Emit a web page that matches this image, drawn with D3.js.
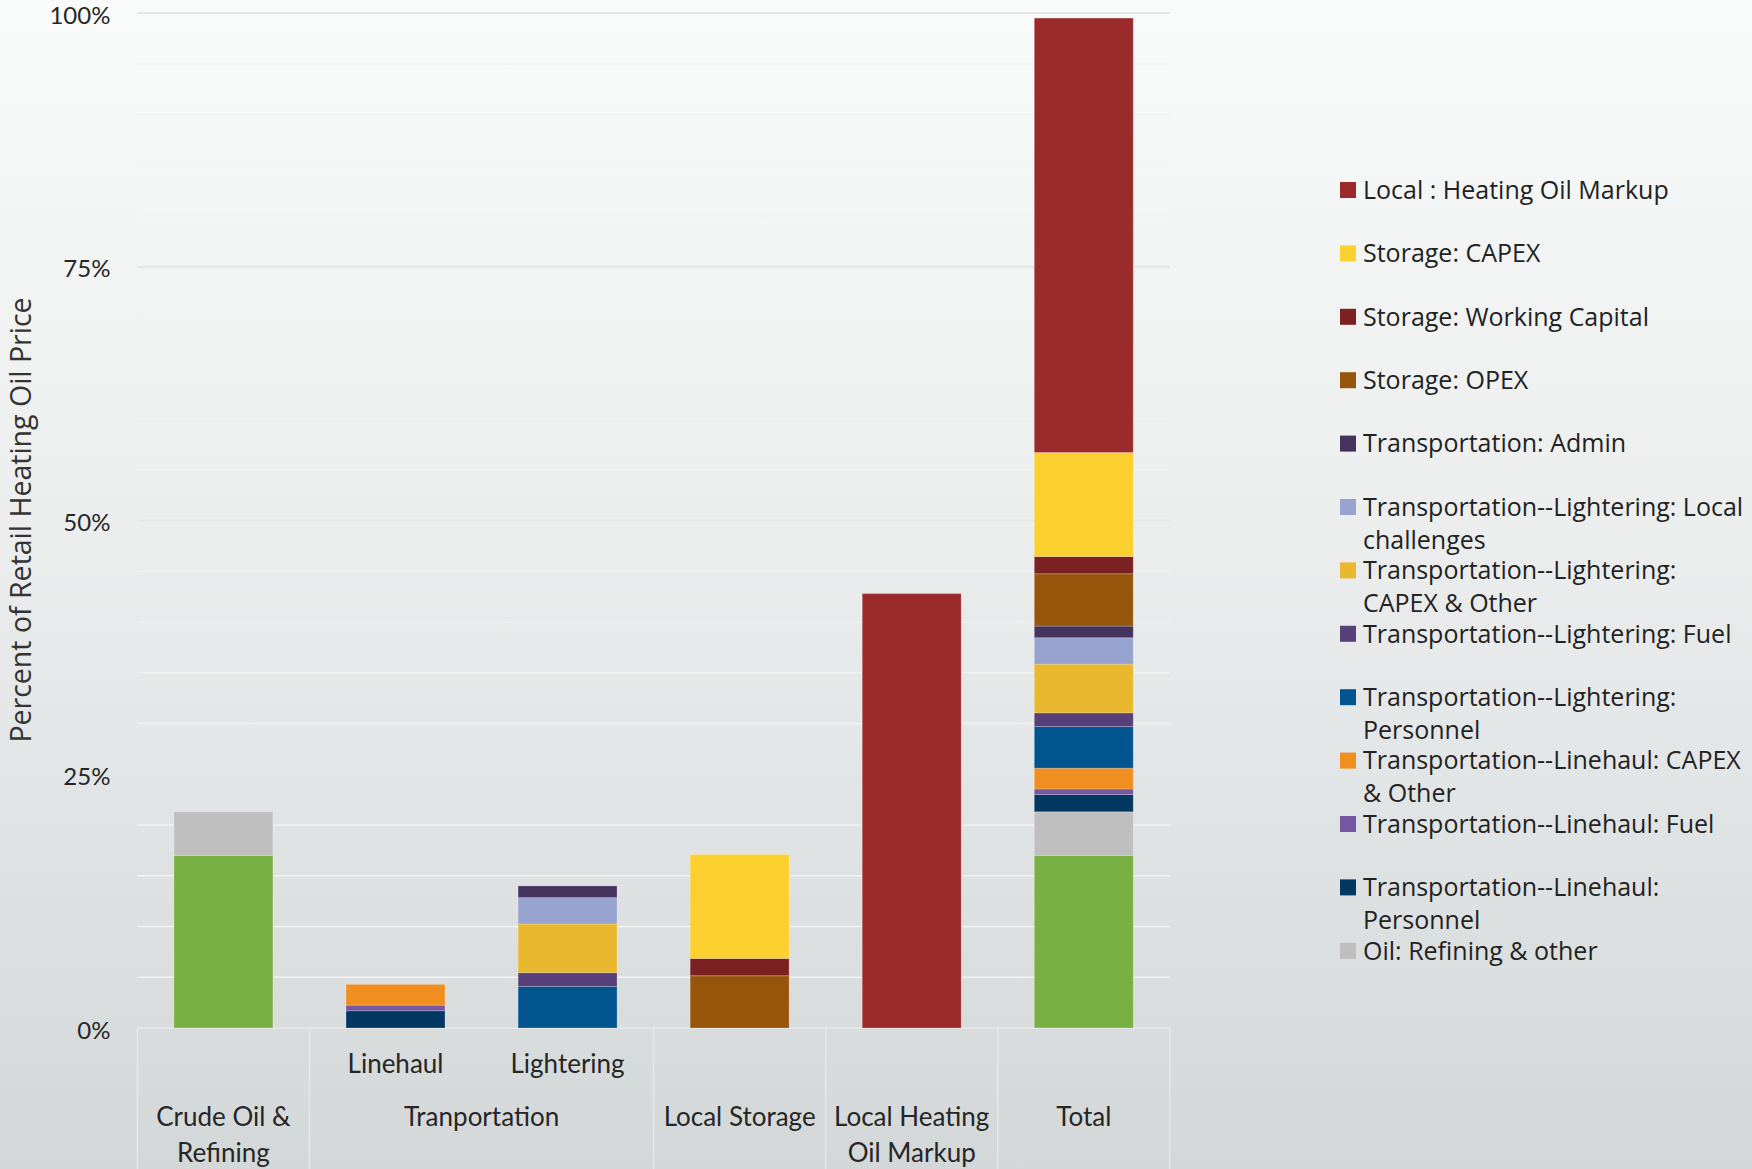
<!DOCTYPE html>
<html><head><meta charset="utf-8">
<script src="https://cdn.jsdelivr.net/npm/d3@7"></script>
<style>html,body{margin:0;padding:0;overflow:hidden;background:#fff}</style>
</head><body>
<svg id="chart" width="1752" height="1169"></svg>
<script>
// ---------- data ----------
const categories = ["crude", "linehaul", "lightering", "storage", "markup", "total"];
const subLabels = ["", "Linehaul", "Lightering", "", "", ""];
const groupLabels = [
  { text: ["Crude Oil &", "Refining"], from: 0, to: 0 },
  { text: ["Tranportation"], from: 1, to: 2 },
  { text: ["Local Storage"], from: 3, to: 3 },
  { text: ["Local Heating", "Oil Markup"], from: 4, to: 4 },
  { text: ["Total"], from: 5, to: 5 }
];
// series, bottom to top of the stack
const seriesNames = [
  "Oil: Crude",
  "Oil: Refining & other",
  "Transportation--Linehaul: Personnel",
  "Transportation--Linehaul: Fuel",
  "Transportation--Linehaul: CAPEX & Other",
  "Transportation--Lightering: Personnel",
  "Transportation--Lightering: Fuel",
  "Transportation--Lightering: CAPEX & Other",
  "Transportation--Lightering: Local challenges",
  "Transportation: Admin",
  "Storage: OPEX",
  "Storage: Working Capital",
  "Storage: CAPEX",
  "Local : Heating Oil Markup"
];
const seriesColors = [
  "#79b043", "#bfbfbf", "#003861", "#7657a3", "#f08e20", "#01558f", "#573f7a",
  "#eab82e", "#96a3cf", "#45335e", "#96550b", "#7c2121", "#fcd02f", "#9b2b2b"
];
// values (% of retail price) per category: crude, linehaul, lightering, storage, markup, total
const crudeOil          = [17.0, 0, 0, 0, 0, 17.0];
const oilRefining       = [4.3, 0, 0, 0, 0, 4.3];
const linehaulPersonnel = [0, 1.7, 0, 0, 0, 1.7];
const linehaulFuel      = [0, 0.55, 0, 0, 0, 0.55];
const linehaulCapex     = [0, 2.05, 0, 0, 0, 2.05];
const lighterPersonnel  = [0, 0, 4.1, 0, 0, 4.1];
const lighterFuel       = [0, 0, 1.35, 0, 0, 1.35];
const lighterCapex      = [0, 0, 4.8, 0, 0, 4.8];
const lighterLocal      = [0, 0, 2.6, 0, 0, 2.6];
const transportAdmin    = [0, 0, 1.15, 0, 0, 1.15];
const storageOpex       = [0, 0, 0, 5.15, 0, 5.15];
const storageWorkingCap = [0, 0, 0, 1.7, 0, 1.7];
const storageCapex      = [0, 0, 0, 10.25, 0, 10.25];
const heatingOilMarkup  = [0, 0, 0, 0, 42.8, 42.8];
const seriesValues = [crudeOil, oilRefining, linehaulPersonnel, linehaulFuel, linehaulCapex,
  lighterPersonnel, lighterFuel, lighterCapex, lighterLocal, transportAdmin,
  storageOpex, storageWorkingCap, storageCapex, heatingOilMarkup];
const yTicks = [0, 25, 50, 75, 100];
const legendOrder = [13, 12, 11, 10, 9, 8, 7, 6, 5, 4, 3, 2, 1];
const legendLines = {
  8: ["Transportation--Lightering: Local", "challenges"],
  7: ["Transportation--Lightering:", "CAPEX & Other"],
  5: ["Transportation--Lightering:", "Personnel"],
  4: ["Transportation--Linehaul: CAPEX", "& Other"],
  2: ["Transportation--Linehaul:", "Personnel"]
};
const yTitle = "Percent of Retail Heating Oil Price";

// ---------- build ----------
const W = 1752, H = 1169;
const svg = d3.select("#chart");
const defs = svg.append("defs");
const grad = defs.append("linearGradient").attr("id", "bg").attr("x1", 0).attr("y1", 0).attr("x2", 0).attr("y2", 1);
grad.append("stop").attr("offset", "0%").attr("stop-color", "#f9fafa");
grad.append("stop").attr("offset", "45%").attr("stop-color", "#eceeee");
grad.append("stop").attr("offset", "100%").attr("stop-color", "#d3d7d8");
svg.append("rect").attr("width", W).attr("height", H).attr("fill", "url(#bg)");

const plotL = 137.4, plotR = 1169.8;
const x = d3.scaleBand().domain(categories).range([plotL, plotR]).paddingInner(0.425).paddingOuter(0.2125);
const y = d3.scaleLinear().domain([0, 100]).range([1028, 13]);

// gridlines
const grid = svg.append("g");
grid.selectAll("line.minor").data(d3.range(5, 100, 5).filter(v => v % 25 !== 0)).join("line")
  .attr("x1", plotL).attr("x2", plotR).attr("y1", d => y(d)).attr("y2", d => y(d))
  .attr("stroke", "#f1f2f2").attr("stroke-width", 1.6);
grid.selectAll("line.major").data(yTicks).join("line")
  .attr("x1", plotL).attr("x2", plotR).attr("y1", d => y(d)).attr("y2", d => y(d))
  .attr("stroke", "#e4e5e6").attr("stroke-width", 2);

// category area dividers
const edges = [0, 1, 3, 4, 5].map(i => x.step() * i + plotL).concat([plotR]);
svg.append("g").selectAll("line").data(edges).join("line")
  .attr("x1", d => d).attr("x2", d => d).attr("y1", y(0)).attr("y2", H)
  .attr("stroke", "#e6e8e9").attr("stroke-width", 1.5);

// stacked bars
const rows = categories.map((c, i) => {
  const o = { cat: c };
  seriesNames.forEach((s, k) => o[s] = seriesValues[k][i]);
  return o;
});
const stack = d3.stack().keys(seriesNames)(rows);
const color = d3.scaleOrdinal().domain(seriesNames).range(seriesColors);
svg.append("g").selectAll("g").data(stack).join("g")
  .attr("fill", d => color(d.key))
  .selectAll("rect").data(d => d.filter(p => p[1] - p[0] > 0)).join("rect")
  .attr("x", d => x(d.data.cat)).attr("width", x.bandwidth())
  .attr("y", d => y(d[1])).attr("height", d => y(d[0]) - y(d[1]))
  .attr("stroke", "rgba(255,255,255,0.22)").attr("stroke-width", 1);

// y axis
const yAxis = d3.axisLeft(y).tickValues(yTicks).tickSize(0).tickPadding(27).tickFormat(d => d + "%");
const ya = svg.append("g").attr("transform", `translate(${plotL},0)`).call(yAxis);
ya.select(".domain").remove();
ya.selectAll("text").attr("font-family", "Lato").attr("font-size", 24).attr("fill", "#262626")
  .attr("dy", "0.42em");

// category labels
const cx = c => x(c) + x.bandwidth() / 2;
svg.append("g").selectAll("text").data(categories.filter((c, i) => subLabels[i])).join("text")
  .attr("x", cx).attr("y", 1064).attr("dy", "0.35em").attr("text-anchor", "middle")
  .attr("font-family", "Lato").attr("font-size", 26).attr("fill", "#262626")
  .text(c => subLabels[categories.indexOf(c)]);
const gl = svg.append("g").selectAll("text").data(groupLabels).join("text")
  .attr("x", d => (cx(categories[d.from]) + cx(categories[d.to])) / 2)
  .attr("y", 1117).attr("text-anchor", "middle")
  .attr("font-family", "Lato").attr("font-size", 26).attr("fill", "#262626");
gl.selectAll("tspan").data(d => d.text.map(t => ({ t, x: (cx(categories[d.from]) + cx(categories[d.to])) / 2 })))
  .join("tspan").attr("x", d => d.x).attr("dy", (d, i) => i === 0 ? "0.35em" : 36).text(d => d.t);

// y title
svg.append("text").attr("transform", "translate(21,520) rotate(-90)")
  .attr("text-anchor", "middle").attr("dy", "0.35em")
  .attr("font-family", "Open Sans").attr("font-size", 28.5).attr("fill", "#333")
  .text(yTitle);

// legend
const lg = svg.append("g").selectAll("g").data(legendOrder).join("g")
  .attr("transform", (d, i) => `translate(1340,${190 + i * 63.4})`);
lg.append("rect").attr("x", 0).attr("y", -8).attr("width", 16).attr("height", 16).attr("fill", k => seriesColors[k]);
lg.append("text").attr("x", 23).attr("font-family", "Open Sans").attr("font-size", 25).attr("fill", "#222")
  .selectAll("tspan").data(k => legendLines[k] || [seriesNames[k]]).join("tspan")
  .attr("x", 23).attr("y", (t, i) => i * 33).attr("dy", "0.35em").text(t => t);
</script>
</body></html>
